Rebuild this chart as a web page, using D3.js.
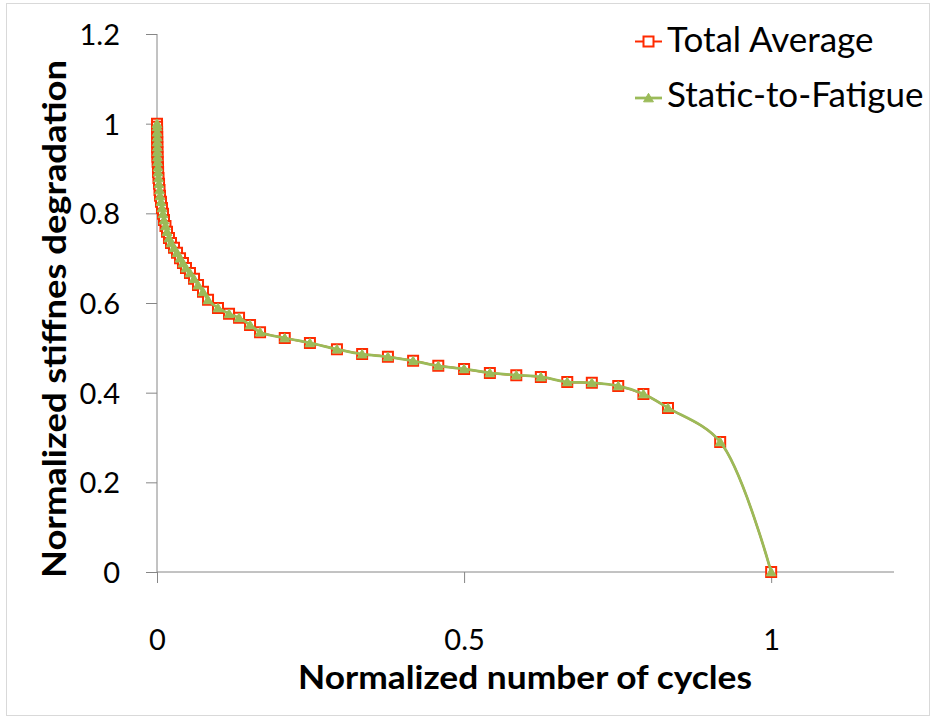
<!DOCTYPE html>
<html>
<head>
<meta charset="utf-8">
<script src="https://cdn.jsdelivr.net/npm/d3@7/dist/d3.min.js"></script>
<style>
  html, body { margin: 0; padding: 0; background: #fff; }
  svg { display: block; }
  text { font-family: Lato, "Open Sans", sans-serif; fill: #000; }
</style>
</head>
<body>
<svg id="chart" width="936" height="719"></svg>
<script>
// Normalized number of cycles (shared by both series)
const cycles = [
  0.0000, 0.0001, 0.0002, 0.0003, 0.0004, 0.0005, 0.0006, 0.0008, 0.0010, 0.0016,
  0.0018, 0.0024, 0.0033, 0.0041, 0.0049, 0.0065, 0.0081, 0.0098, 0.0114, 0.0138,
  0.0163, 0.0195, 0.0228, 0.0277, 0.0326, 0.0375, 0.0423, 0.0472, 0.0537, 0.0603,
  0.0668, 0.0749, 0.0831, 0.0993, 0.1173, 0.1336, 0.1515, 0.1678,
  0.208, 0.249, 0.293, 0.334, 0.376, 0.417, 0.458, 0.500, 0.542, 0.585,
  0.625, 0.668, 0.708, 0.751, 0.792, 0.832, 0.917, 1.000
];

// Normalized stiffness, averaged over all specimens
const totalAverage = [
  1.000, 0.993, 0.981, 0.970, 0.959, 0.948, 0.937, 0.926, 0.915, 0.903,
  0.892, 0.879, 0.866, 0.852, 0.839, 0.826, 0.812, 0.799, 0.785, 0.772,
  0.759, 0.745, 0.734, 0.723, 0.712, 0.700, 0.689, 0.678, 0.667, 0.654,
  0.640, 0.625, 0.607, 0.589, 0.576, 0.567, 0.551, 0.535,
  0.522, 0.511, 0.497, 0.486, 0.480, 0.471, 0.460, 0.453, 0.444, 0.439,
  0.435, 0.424, 0.422, 0.415, 0.397, 0.366, 0.290, 0.000
];

// Normalized stiffness predicted by the static-to-fatigue model
const staticToFatigue = [
  1.000, 0.993, 0.981, 0.970, 0.959, 0.948, 0.937, 0.926, 0.915, 0.903,
  0.892, 0.879, 0.866, 0.852, 0.839, 0.826, 0.812, 0.799, 0.785, 0.772,
  0.759, 0.745, 0.734, 0.723, 0.712, 0.700, 0.689, 0.678, 0.667, 0.654,
  0.640, 0.625, 0.607, 0.589, 0.576, 0.567, 0.551, 0.535,
  0.522, 0.511, 0.497, 0.486, 0.480, 0.471, 0.460, 0.453, 0.444, 0.439,
  0.435, 0.424, 0.422, 0.415, 0.397, 0.366, 0.290, 0.000
];

const xTicks = [0, 0.5, 1];
const yTicks = [0, 0.2, 0.4, 0.6, 0.8, 1, 1.2];
const seriesNames = ["Total Average", "Static-to-Fatigue"];

const RED = "#ff2a00";
const GREEN = "#9bbb59";
const AXIS = "#868686";

const svg = d3.select("#chart");

// chart frame
svg.append("rect")
  .attr("x", 6.5).attr("y", 3.5)
  .attr("width", 923).attr("height", 712)
  .attr("fill", "#fff").attr("stroke", "#d9d9d9").attr("stroke-width", 1);

const x = d3.scaleLinear().domain([0, 1.2]).range([157, 894]);
const y = d3.scaleLinear().domain([0, 1.2]).range([572, 34]);

// y axis
const yAxis = d3.axisLeft(y).tickValues(yTicks).tickSize(11).tickPadding(0)
  .tickFormat(d3.format("~g"));
const gy = svg.append("g").attr("transform", `translate(${x(0)},0)`).call(yAxis);
gy.select(".domain").attr("stroke", AXIS).attr("d", `M0,${y(1.2)}V${y(0)}`);
gy.selectAll(".tick line").attr("stroke", AXIS);
gy.selectAll(".tick text")
  .attr("x", -37).attr("dy", "0.36em")
  .attr("font-size", 29).attr("font-family", "Lato, sans-serif").attr("fill", "#000");

// x axis
const xAxis = d3.axisBottom(x).tickValues(xTicks).tickSize(11).tickPadding(0)
  .tickFormat(d3.format("~g"));
const gx = svg.append("g").attr("transform", `translate(0,${y(0)})`).call(xAxis);
gx.select(".domain").attr("stroke", AXIS).attr("d", `M${x(0)},0H${x(1.2)}`);
gx.selectAll(".tick line").attr("stroke", AXIS);
gx.selectAll(".tick text")
  .attr("y", 78).attr("dy", 0)
  .attr("font-size", 29).attr("font-family", "Lato, sans-serif").attr("fill", "#000");

// axis titles
svg.append("text")
  .attr("x", 525).attr("y", 689)
  .attr("text-anchor", "middle")
  .attr("font-family", "Lato, sans-serif")
  .attr("font-weight", "bold").attr("font-size", 32)
  .attr("textLength", 454).attr("lengthAdjust", "spacingAndGlyphs")
  .text("Normalized number of cycles");

svg.append("text")
  .attr("transform", "translate(66,319) rotate(-90)")
  .attr("text-anchor", "middle")
  .attr("font-family", "Lato, sans-serif")
  .attr("font-weight", "bold").attr("font-size", 32)
  .attr("textLength", 518).attr("lengthAdjust", "spacingAndGlyphs")
  .text("Normalized stiffnes degradation");

const line = d3.line()
  .x(d => x(d[0]))
  .y(d => y(d[1]))
  .curve(d3.curveCatmullRom.alpha(0.5));

const avgPts = cycles.map((c, i) => [c, totalAverage[i]]);
const stfPts = cycles.map((c, i) => [c, staticToFatigue[i]]);

const squareSym = d3.symbol().type(d3.symbolSquare).size(100);
const triSym = d3.symbol().type(d3.symbolTriangle).size(42);

// Total Average: line + hollow square markers
svg.append("path").datum(avgPts)
  .attr("d", line).attr("fill", "none")
  .attr("stroke", RED).attr("stroke-width", 2);
svg.append("g").selectAll("path").data(avgPts).join("path")
  .attr("d", squareSym)
  .attr("transform", d => `translate(${x(d[0])},${y(d[1])})`)
  .attr("fill", "#fff").attr("stroke", RED).attr("stroke-width", 2);

// Static-to-Fatigue: line + filled triangle markers
svg.append("path").datum(stfPts)
  .attr("d", line).attr("fill", "none")
  .attr("stroke", GREEN).attr("stroke-width", 2.75);
svg.append("g").selectAll("path").data(stfPts).join("path")
  .attr("d", triSym)
  .attr("transform", d => `translate(${x(d[0])},${y(d[1]) + 1})`)
  .attr("fill", GREEN).attr("stroke", GREEN).attr("stroke-width", 1);

// legend
const legend = svg.append("g");
const legendRows = [
  { name: seriesNames[0], color: RED, sym: squareSym, fill: "#fff", yMark: 41.5, yText: 52 },
  { name: seriesNames[1], color: GREEN, sym: triSym, fill: GREEN, yMark: 98, yText: 107 }
];
legendRows.forEach(r => {
  legend.append("line")
    .attr("x1", 635).attr("x2", 662)
    .attr("y1", r.yMark).attr("y2", r.yMark)
    .attr("stroke", r.color).attr("stroke-width", r.color === GREEN ? 2.75 : 2);
  legend.append("path")
    .attr("d", r.sym)
    .attr("transform", `translate(648.5,${r.yMark + (r.color === GREEN ? 1 : 0)})`)
    .attr("fill", r.fill).attr("stroke", r.color).attr("stroke-width", r.color === GREEN ? 1 : 2);
  legend.append("text")
    .attr("x", 667).attr("y", r.yText)
    .attr("font-size", 35).attr("font-family", "Lato, sans-serif")
    .text(r.name);
});
</script>
</body>
</html>
